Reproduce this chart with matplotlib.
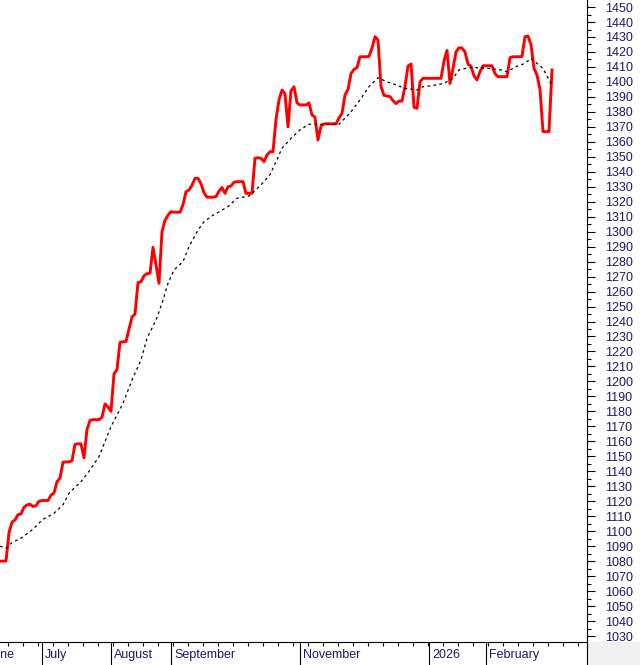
import matplotlib
matplotlib.use("Agg")
import matplotlib.pyplot as plt
import numpy as np
from matplotlib.ticker import MultipleLocator, FixedLocator, NullFormatter
from matplotlib.transforms import offset_copy
from matplotlib.patches import Rectangle
from matplotlib.lines import Line2D

plt.rcParams["font.family"] = ["Liberation Sans", "DejaVu Sans"]

# daily closes, one value per trading day (index 0 = first visible day)
close = [
    1080, 1080, 1080, 1099, 1106, 1107.5, 1111, 1111.5, 1116, 1117.5,
    1118, 1116.5, 1117, 1120, 1120.5, 1120.5, 1120.5, 1124, 1125.5, 1133,
    1135.5, 1146, 1146.3, 1146.3, 1147, 1158, 1158.3, 1158.3, 1149, 1168,
    1174, 1174.5, 1174.5, 1174.5, 1176, 1185, 1183, 1180, 1205, 1208,
    1226, 1226.5, 1226.6, 1235, 1243, 1245, 1266, 1266.6, 1270.5, 1272,
    1272.2, 1289.6, 1278, 1265.5, 1300, 1307.5, 1311, 1313.4, 1313, 1313,
    1313, 1318, 1326.7, 1327.8, 1331, 1335.6, 1335.6, 1332, 1326, 1323,
    1323, 1323, 1323.5, 1327, 1329.5, 1325.6, 1330, 1330.5, 1333, 1333.4,
    1333.4, 1333.4, 1325.6, 1325.6, 1325.6, 1349, 1349.4, 1349, 1346.7, 1351.2,
    1353.4, 1353.4, 1375, 1388, 1394.6, 1392, 1370, 1394, 1396.8, 1386,
    1384.6, 1384.6, 1384.6, 1386, 1378, 1376.4, 1361.2, 1370.5, 1372, 1372,
    1372, 1372, 1372, 1376, 1379, 1391.3, 1395, 1405.5, 1408.3, 1409.5,
    1416.8, 1416.8, 1416.8, 1417, 1422.5, 1430.2, 1428, 1397, 1391, 1390.6,
    1390.2, 1387.5, 1385.5, 1387.2, 1387.2, 1396.8, 1410.5, 1412, 1383, 1382.4,
    1400, 1402.4, 1402.4, 1402.4, 1402.4, 1402.4, 1402.4, 1402.4, 1414, 1421,
    1399, 1409, 1420, 1422.8, 1422.6, 1420, 1412, 1410.5, 1404, 1401.3,
    1406.8, 1410.8, 1410.8, 1410.8, 1410.8, 1405.5, 1403.5, 1403.5, 1403.5, 1403.5,
    1416.2, 1416.8, 1416.8, 1416.8, 1417, 1430.2, 1430.6, 1425, 1409, 1404.6,
    1395, 1366.8, 1366.8, 1366.8, 1408,
]

# moving average, read at a few days
ma_day = [0, 2, 4, 7, 11, 14, 18, 21, 23, 27, 30, 33, 37, 41, 44, 47, 49, 52,
          54, 56, 58, 61, 63, 66, 68, 71, 76, 79, 83, 87, 90, 92, 94, 97, 100,
          103, 113, 117, 120, 123, 126, 129, 132, 135, 139, 141, 144, 148, 151,
          153, 156, 159, 163, 167, 169, 172, 175, 177, 179, 181, 183, 184]
ma_val = [1090, 1088.6, 1092.4, 1095.3, 1101.3, 1107.5, 1112, 1117.6, 1125.4,
          1133.1, 1140.9, 1149.8, 1169.8, 1185.4, 1201, 1214.4, 1228.8, 1241,
          1252.2, 1265.5, 1274.4, 1280, 1290, 1301, 1306.7, 1311, 1316.7,
          1322.3, 1323.8, 1331.2, 1338, 1346.7, 1355.7, 1362.3, 1368, 1371.7,
          1371.7, 1380, 1388, 1396.8, 1402.8, 1400.1, 1398, 1395.7, 1394.6,
          1396.8, 1397.5, 1399, 1402.4, 1408, 1409.5, 1409.5, 1409, 1408,
          1406.8, 1410.2, 1412.4, 1415.7, 1412.4, 1409, 1401.3, 1398]

month_day = [-5, 14, 37, 57, 100, 143, 162]
month_lab = ["June", "July", "August", "September", "November", "2026", "February"]

navy = "#1a1a66"

fig = plt.figure(figsize=(6.4, 6.65), dpi=100)
ax = fig.add_axes([0, 23 / 665, 587 / 640, 642 / 665])

days = np.arange(len(close))
ax.plot(days, close, color="#ff0000", lw=2.1)
ax.plot(ma_day, ma_val, color="black", lw=0.9, linestyle=(0, (2.2, 2.6)))

ax.set_xlim(0, 587 / 3)
ax.set_ylim(1026, 1454.7)

for s in ["top", "left"]:
    ax.spines[s].set_visible(False)
for s in ["bottom", "right"]:
    ax.spines[s].set_linewidth(0.8)

# y axis on the right
ax.yaxis.tick_right()
ax.yaxis.set_major_locator(MultipleLocator(10))
ax.yaxis.set_minor_locator(MultipleLocator(5))
ax.tick_params(axis="y", which="major", length=6, width=0.8, pad=7,
               labelsize=9, labelcolor=navy)
ax.tick_params(axis="y", which="minor", length=3, width=0.8)

# x axis: month separators and weekly ticks
ax.xaxis.set_major_locator(FixedLocator(month_day))
ax.xaxis.set_major_formatter(NullFormatter())
ax.xaxis.set_minor_locator(FixedLocator(np.arange(2.7, 196, 5)))
ax.tick_params(axis="x", which="major", length=17, width=0.8)
ax.tick_params(axis="x", which="minor", length=3, width=0.8)

lab_tr = offset_copy(ax.get_xaxis_transform(), fig=fig, x=3, y=-13, units="dots")
for d, lab in zip(month_day, month_lab):
    ax.text(d, 0, lab, transform=lab_tr, ha="left", va="center",
            fontsize=9, color=navy)

# grey corner under the price scale
fig.add_artist(Rectangle((587 / 640, 0), 53 / 640, 23 / 665,
                         transform=fig.transFigure, color="#f0f0f0", zorder=-1))
fig.add_artist(Line2D([587 / 640, 587 / 640], [0, 23 / 665],
                      transform=fig.transFigure, color="black", lw=0.8))

fig.savefig("out.png", dpi=100)
